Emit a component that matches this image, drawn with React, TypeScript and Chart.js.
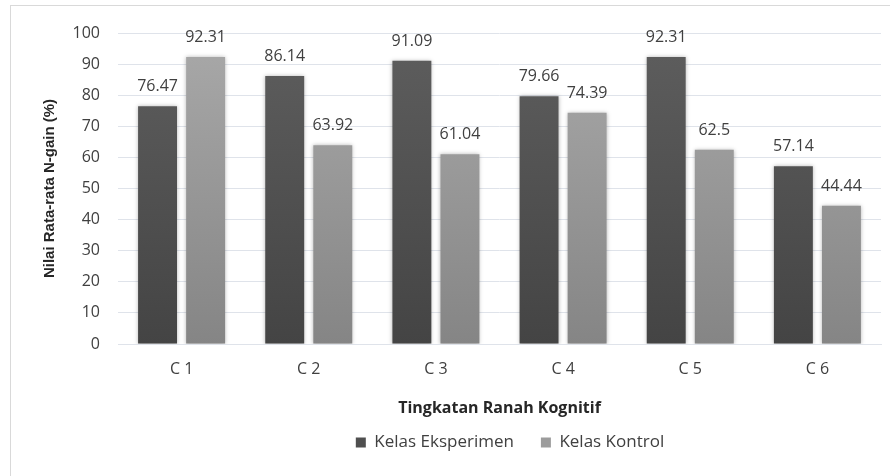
import React, { useEffect, useRef } from "react";
import { Chart, registerables } from "chart.js";

Chart.register(...registerables);

const categories = ["C 1", "C 2", "C 3", "C 4", "C 5", "C 6"];
const seriesNames = ["Kelas Eksperimen", "Kelas Kontrol"];
const eksperimen = [76.47, 86.14, 91.09, 79.66, 92.31, 57.14];
const kontrol = [92.31, 63.92, 61.04, 74.39, 62.5, 44.44];
const yMin = 0;
const yMax = 100;
const yStep = 10;
const xTitle = "Tingkatan Ranah Kognitif";
const yTitle = "Nilai Rata-rata N-gain (%)";

const FONT = "'Open Sans', Lato, sans-serif";
const YTITLE_FONT = "'Liberation Sans', Arial, sans-serif";

function gradient(chart: any, top: string, bottom: string, fallback: string) {
  const a = chart.chartArea;
  if (!a) return fallback;
  const g = chart.ctx.createLinearGradient(0, a.top, 0, a.bottom);
  g.addColorStop(0, top);
  g.addColorStop(1, bottom);
  return g;
}

const framePlugin = {
  id: "frame",
  beforeDraw(chart: any) {
    const ctx = chart.ctx;
    ctx.save();
    ctx.fillStyle = "#ffffff";
    ctx.fillRect(0, 0, chart.width, chart.height);
    ctx.strokeStyle = "#d9d9d9";
    ctx.lineWidth = 1;
    ctx.strokeRect(10.5, 5.5, 1000, 520);
    ctx.restore();
  },
};

const shadowPlugin = {
  id: "barShadow",
  beforeDatasetsDraw(chart: any) {
    const ctx = chart.ctx;
    ctx.save();
    ctx.shadowColor = "rgba(0,0,0,0.28)";
    ctx.shadowBlur = 4;
    ctx.shadowOffsetX = 0;
    ctx.shadowOffsetY = 0;
  },
  afterDatasetsDraw(chart: any) {
    chart.ctx.restore();
  },
};

const dataLabelPlugin = {
  id: "dataLabels",
  afterDatasetsDraw(chart: any) {
    const ctx = chart.ctx;
    ctx.save();
    ctx.font = `16px ${FONT}`;
    ctx.fillStyle = "#404040";
    ctx.textAlign = "center";
    ctx.textBaseline = "alphabetic";
    chart.data.datasets.forEach((ds: any, i: number) => {
      chart.getDatasetMeta(i).data.forEach((el: any, j: number) => {
        ctx.fillText(String(ds.data[j]), el.x, el.y - 15);
      });
    });
    ctx.restore();
  },
};

export default function App() {
  const ref = useRef<HTMLCanvasElement | null>(null);

  useEffect(() => {
    document.body.style.margin = "0";
    const canvas = ref.current;
    if (!canvas) return;
    const solid = ["#4f4f4f", "#9c9c9c"];
    const chart = new Chart(canvas, {
      type: "bar",
      data: {
        labels: categories,
        datasets: [
          {
            label: seriesNames[0],
            data: eksperimen,
            backgroundColor: (c: any) => gradient(c.chart, "#5e5e5e", "#444444", solid[0]),
            barPercentage: 0.81,
            categoryPercentage: 0.756,
          },
          {
            label: seriesNames[1],
            data: kontrol,
            backgroundColor: (c: any) => gradient(c.chart, "#a9a9a9", "#858585", solid[1]),
            barPercentage: 0.81,
            categoryPercentage: 0.756,
          },
        ],
      },
      options: {
        responsive: false,
        animation: false,
        layout: { padding: { left: 0, right: 0, top: 33, bottom: 15 } },
        plugins: {
          tooltip: { enabled: false },
          legend: {
            position: "bottom",
            labels: {
              boxWidth: 10,
              boxHeight: 10,
              padding: 27,
              color: "#404040",
              font: { family: FONT, size: 17 },
              generateLabels: (ch: any) => {
                const items = Chart.defaults.plugins.legend.labels.generateLabels(ch);
                items.forEach((it: any, i: number) => {
                  it.fillStyle = solid[i];
                  it.strokeStyle = solid[i];
                  it.lineWidth = 0;
                });
                return items;
              },
            },
          },
        },
        scales: {
          x: {
            grid: { display: false, drawTicks: false },
            border: { display: true, color: "#dfe3ea" },
            ticks: { color: "#404040", padding: 16, font: { family: FONT, size: 16 } },
            title: {
              display: true,
              text: xTitle,
              color: "#262626",
              font: { family: FONT, size: 16, weight: "bold" },
              padding: { top: 0, bottom: -10.6 },
            },
            afterFit: (s: any) => {
              s.height = 63;
            },
          },
          y: {
            min: yMin,
            max: yMax,
            ticks: { stepSize: yStep, padding: 18, color: "#404040", font: { family: FONT, size: 16 } },
            grid: { color: "#dfe3ea", drawTicks: false },
            border: { display: false },
            title: {
              display: true,
              text: yTitle,
              color: "#262626",
              font: { family: YTITLE_FONT, size: 15, weight: "bold" },
              padding: { top: 41, bottom: 0 },
            },
            afterFit: (s: any) => {
              s.width = 118;
            },
          },
          y2: {
            type: "linear",
            position: "right",
            display: true,
            ticks: { display: false },
            grid: { display: false, drawTicks: false },
            border: { display: false },
            afterFit: (s: any) => {
              s.width = 139;
            },
          },
        },
      },
      plugins: [framePlugin, shadowPlugin, dataLabelPlugin],
    } as any);
    return () => chart.destroy();
  }, []);

  return (
    <div style={{ width: 890, height: 476, overflow: "hidden", position: "relative" }}>
      <canvas ref={ref} width={1020} height={476} style={{ display: "block" }} />
    </div>
  );
}
